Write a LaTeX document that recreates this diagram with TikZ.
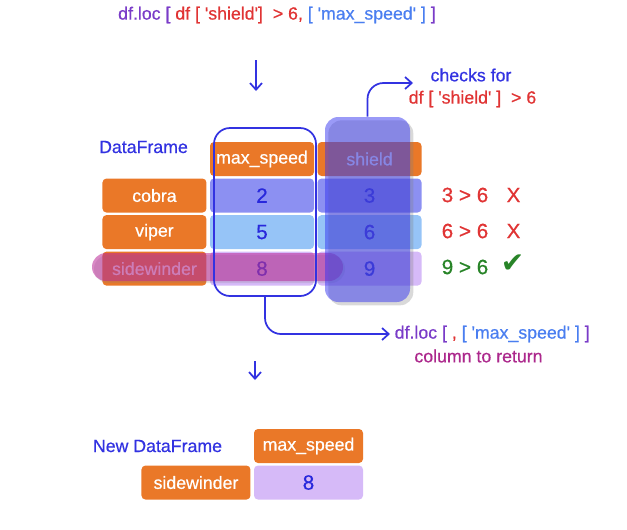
\documentclass[tikz,border=0pt]{standalone}
\usepackage{fontspec}
\setmainfont{Liberation Sans}[FakeBold=0.6]
\newfontfamily\checkfont{DejaVu Sans}
\usetikzlibrary{arrows.meta,positioning,shadows}
\definecolor{cellorange}{RGB}{234,120,40}
\definecolor{rowone}{RGB}{140,144,242}
\definecolor{rowtwo}{RGB}{150,196,247}
\definecolor{rowthree}{RGB}{214,186,248}
\definecolor{dfblue}{RGB}{50,50,225}
\definecolor{digitblue}{RGB}{40,40,220}
\definecolor{locpurple}{RGB}{122,60,200}
\definecolor{locred}{RGB}{224,52,52}
\definecolor{locblue}{RGB}{74,126,240}
\definecolor{retpurple}{RGB}{172,40,140}
\definecolor{okgreen}{RGB}{40,132,40}
\definecolor{hlblue}{RGB}{53,53,240}
\definecolor{hlpink}{RGB}{185,40,150}
\newcommand{\q}{\textquotesingle}

\begin{document}
\begin{tikzpicture}[x=0.75pt,y=-0.75pt,>={Straight Barb[length=5pt,width=9pt]},
    node distance=1.5pt and 2.25pt,
    txt/.style={font=\fontsize{13.3}{16}\selectfont},
    cell/.style={txt,rectangle,rounded corners=3pt,inner sep=0pt,minimum width=78pt,minimum height=25.5pt},
    name cell/.style={cell,fill=cellorange,text=white},
    value cell/.style={cell,text=digitblue,font=\fontsize{15.5}{18}\selectfont},
    test/.style={font=\fontsize{15.5}{18}\selectfont},
    pointer/.style={->,draw=dfblue,line width=1.3pt,rounded corners=12pt}]
  \useasboundingbox (0,0) rectangle (627,529);

  % query on top
  \node[txt] (query) at (277,15) {\textcolor{locpurple}{df.loc [} \textcolor{locred}{df [ \q shield\q]\ \ > 6,} \textcolor{locblue}{[ \q max\_speed\q\ ]} \textcolor{locpurple}{]}};
  \coordinate (qa) at (256,60);
  \coordinate (qb) at (256,91);
  \draw[pointer] (qa) -- (qb);

  % the DataFrame
  \node[txt,text=dfblue] (df) at (143.5,147) {DataFrame};
  \node[name cell] (hspeed) at (262,159) {max\_speed};
  \node[name cell,right=of hspeed] (hshield) {shield};
  \node[value cell,fill=rowone,below=of hspeed] (v2) {2};
  \node[value cell,fill=rowone,below=of hshield] (v3) {3};
  \node[value cell,fill=rowtwo,below=of v2] (v5) {5};
  \node[value cell,fill=rowtwo,below=of v3] (v6) {6};
  \node[value cell,fill=rowthree,below=of v5] (v8) {8};
  \node[value cell,fill=rowthree,below=of v6] (v9) {9};
  \node[name cell,left=of v2] (cobra) {cobra};
  \node[name cell,left=of v5] (viper) {viper};
  \node[name cell,left=of v8] (side) {sidewinder};

  % highlights
  \node[rectangle,rounded corners=10.5pt,fill=hlpink,fill opacity=0.55,minimum width=188.25pt,minimum height=21pt,
    drop shadow={shadow xshift=1.5pt,shadow yshift=-1.5pt,opacity=0.2}] (sidehl) at (217.5,267) {};
  \node[rectangle,rounded corners=10pt,fill=hlblue,fill opacity=0.5,minimum width=63.75pt,minimum height=138.75pt,
    drop shadow={shadow xshift=2.5pt,shadow yshift=-2.5pt,opacity=0.3}] (shieldhl) at (367.5,209.5) {};
  \node[rectangle,rounded corners=12pt,draw=dfblue,line width=1.3pt,minimum width=76.5pt,minimum height=126pt] (speedbox) at (265,212) {};

  % the test on shield
  \node[txt,text=dfblue] (checks) at (471,75) {checks for};
  \node[txt,text=locred] (shieldtest) at (472.5,99) {df [ \q shield\q\ ]\ \ > 6};
  \coordinate (chk) at (413,83);
  \draw[pointer] (shieldhl.north) |- (chk);
  \node[test,text=locred] (t3) at (465,195) {3 > 6};
  \node[test,text=locred] (x3) at (513.5,195) {X};
  \node[test,text=locred] (t6) at (465,231) {6 > 6};
  \node[test,text=locred] (x6) at (513.5,231) {X};
  \node[test,text=okgreen] (t9) at (465,267) {9 > 6};
  \node[text=okgreen,font=\checkfont\fontsize{21}{24}\selectfont] (ok9) at (512.5,264) {✔};

  % column to return
  \node[txt,anchor=west] (ret) at (390,334) {\textcolor{locpurple}{df.loc [} \textcolor{locred}{,} \textcolor{locblue}{[ \q max\_speed\q\ ]} \textcolor{locpurple}{]}};
  \node[txt,text=retpurple] (colret) at (478.5,356) {column to return};
  \draw[pointer] (speedbox.south) |- (ret.west);
  \coordinate (ra) at (255,361);
  \coordinate (rb) at (255,380);
  \draw[pointer] (ra) -- (rb);

  % the new DataFrame
  \node[txt,text=dfblue] (newdf) at (157.5,446) {New DataFrame};
  \node[name cell,minimum width=81.75pt] (nspeed) at (308.5,446) {max\_speed};
  \node[value cell,fill=rowthree,minimum width=81.75pt,below=of nspeed] (n8) {8};
  \node[name cell,minimum width=81.75pt,left=of n8] (nside) {sidewinder};
\end{tikzpicture}
\end{document}
